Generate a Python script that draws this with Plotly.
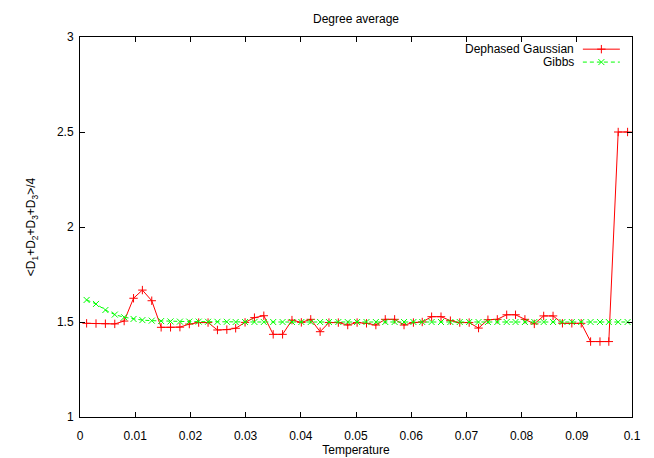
import plotly.graph_objects as go

temperature = [0.0012, 0.0029, 0.0046, 0.0063, 0.0080, 0.0097, 0.0113, 0.0130, 0.0147, 0.0164,
               0.0181, 0.0198, 0.0215, 0.0232, 0.0249, 0.0266, 0.0282, 0.0299, 0.0316, 0.0333,
               0.0350, 0.0367, 0.0384, 0.0401, 0.0418, 0.0435, 0.0451, 0.0468, 0.0485, 0.0502,
               0.0519, 0.0536, 0.0553, 0.0570, 0.0587, 0.0604, 0.0620, 0.0637, 0.0654, 0.0671,
               0.0688, 0.0705, 0.0722, 0.0739, 0.0756, 0.0773, 0.0789, 0.0806, 0.0823, 0.0840,
               0.0857, 0.0874, 0.0891, 0.0908, 0.0925, 0.0942, 0.0958, 0.0975, 0.0992]

dephased_gaussian = [1.493, 1.492, 1.491, 1.490, 1.505, 1.625, 1.668, 1.612, 1.472, 1.472,
                     1.473, 1.489, 1.497, 1.497, 1.458, 1.460, 1.467, 1.498, 1.523, 1.533,
                     1.435, 1.435, 1.510, 1.498, 1.514, 1.449, 1.497, 1.497, 1.484, 1.497,
                     1.493, 1.484, 1.514, 1.514, 1.484, 1.497, 1.500, 1.528, 1.528, 1.507,
                     1.497, 1.497, 1.468, 1.512, 1.514, 1.538, 1.538, 1.514, 1.490, 1.532,
                     1.532, 1.493, 1.493, 1.493, 1.397, 1.397, 1.397, 2.500, 2.500]

gibbs = [1.616, 1.595, 1.563, 1.539, 1.525, 1.516, 1.510, 1.507, 1.505, 1.503,
         1.502, 1.502, 1.502, 1.501, 1.501, 1.501, 1.500, 1.500, 1.500, 1.500,
         1.500, 1.500, 1.500, 1.500, 1.500, 1.500, 1.500, 1.500, 1.500, 1.500,
         1.500, 1.500, 1.500, 1.500, 1.500, 1.500, 1.500, 1.500, 1.500, 1.500,
         1.500, 1.500, 1.500, 1.500, 1.500, 1.500, 1.500, 1.500, 1.500, 1.500,
         1.500, 1.500, 1.500, 1.500, 1.500, 1.500, 1.500, 1.500, 1.500]

x_ticks = [0, 0.01, 0.02, 0.03, 0.04, 0.05, 0.06, 0.07, 0.08, 0.09, 0.1]
x_tick_labels = ["0", "0.01", "0.02", "0.03", "0.04", "0.05", "0.06", "0.07", "0.08", "0.09", "0.1"]
y_ticks = [1, 1.5, 2, 2.5, 3]
y_tick_labels = ["1", "1.5", "2", "2.5", "3"]

series_names = ["Dephased Gaussian", "Gibbs"]

RED = "#ff0000"
GREEN = "#00ff00"
FONT = "Liberation Sans, Arial, sans-serif"

fig = go.Figure()
fig.add_trace(go.Scatter(
    x=temperature, y=dephased_gaussian, mode="lines+markers", name=series_names[0],
    line=dict(color=RED, width=1),
    marker=dict(symbol="cross-thin", size=6, line=dict(color=RED, width=1), color=RED),
    showlegend=False,
))
fig.add_trace(go.Scatter(
    x=temperature, y=gibbs, mode="lines+markers", name=series_names[1],
    line=dict(color=GREEN, width=1, dash="4px,3px"),
    marker=dict(symbol="x-thin", size=6, line=dict(color=GREEN, width=1), color=GREEN),
    showlegend=False,
))

# custom gnuplot-style legend (symbol to the right of the text), drawn in an overlay 0..1 axis
leg_rows = [0.968, 0.934]
leg_x0, leg_x1, leg_xm = 0.911, 0.978, 0.9445
fig.add_trace(go.Scatter(
    x=[leg_x0, leg_xm, leg_x1], y=[leg_rows[0]] * 3, mode="lines+markers",
    line=dict(color=RED, width=1),
    marker=dict(symbol="cross-thin", size=6, line=dict(color=RED, width=1)),
    marker_opacity=[0, 1, 0],
    xaxis="x2", yaxis="y2", showlegend=False, hoverinfo="skip",
))
fig.add_trace(go.Scatter(
    x=[leg_x0, leg_xm, leg_x1], y=[leg_rows[1]] * 3, mode="lines+markers",
    line=dict(color=GREEN, width=1, dash="4px,3px"),
    marker=dict(symbol="x-thin", size=6, line=dict(color=GREEN, width=1)),
    marker_opacity=[0, 1, 0],
    xaxis="x2", yaxis="y2", showlegend=False, hoverinfo="skip",
))
for name, yy in zip(series_names, leg_rows):
    fig.add_annotation(x=0.899, y=yy, xref="x2", yref="y2", text=name, showarrow=False,
                       xanchor="right", yanchor="middle", font=dict(family=FONT, size=12, color="black"))

axis_common = dict(
    showline=True, mirror="ticks", linecolor="black", linewidth=1,
    ticks="inside", ticklen=5, tickcolor="black", tickwidth=1,
    showgrid=False, zeroline=False, automargin=False,
    tickfont=dict(family=FONT, size=12, color="black"),
)

# page body has an 8px margin, so the figure is offset by 8px right/down
fig.update_layout(
    width=654, height=458,
    margin=dict(l=72, r=30, t=29, b=49),
    paper_bgcolor="white", plot_bgcolor="white",
    font=dict(family=FONT, size=12, color="black"),
    title=dict(text="Degree average", x=0.5, xref="paper", xanchor="center",
               y=1 - 11 / 458, yref="container", yanchor="middle",
               font=dict(family=FONT, size=12, color="black")),
    xaxis=dict(range=[0, 0.1], tickvals=x_ticks, ticktext=x_tick_labels, ticklabelstandoff=8,
               title=dict(text="Temperature", standoff=2, font=dict(family=FONT, size=12)),
               **axis_common),
    yaxis=dict(range=[1, 3], tickvals=y_ticks, ticktext=y_tick_labels, ticklabelstandoff=3,
               title=dict(text="&lt;D<sub>1</sub>+D<sub>2</sub>+D<sub>3</sub>+D<sub>3</sub>&gt;/4",
                          standoff=18, font=dict(family=FONT, size=12)),
               **axis_common),
    xaxis2=dict(range=[0, 1], overlaying="x", visible=False, fixedrange=True),
    yaxis2=dict(range=[0, 1], overlaying="y", visible=False, fixedrange=True),
    showlegend=False,
)

fig.write_html("out.html")
